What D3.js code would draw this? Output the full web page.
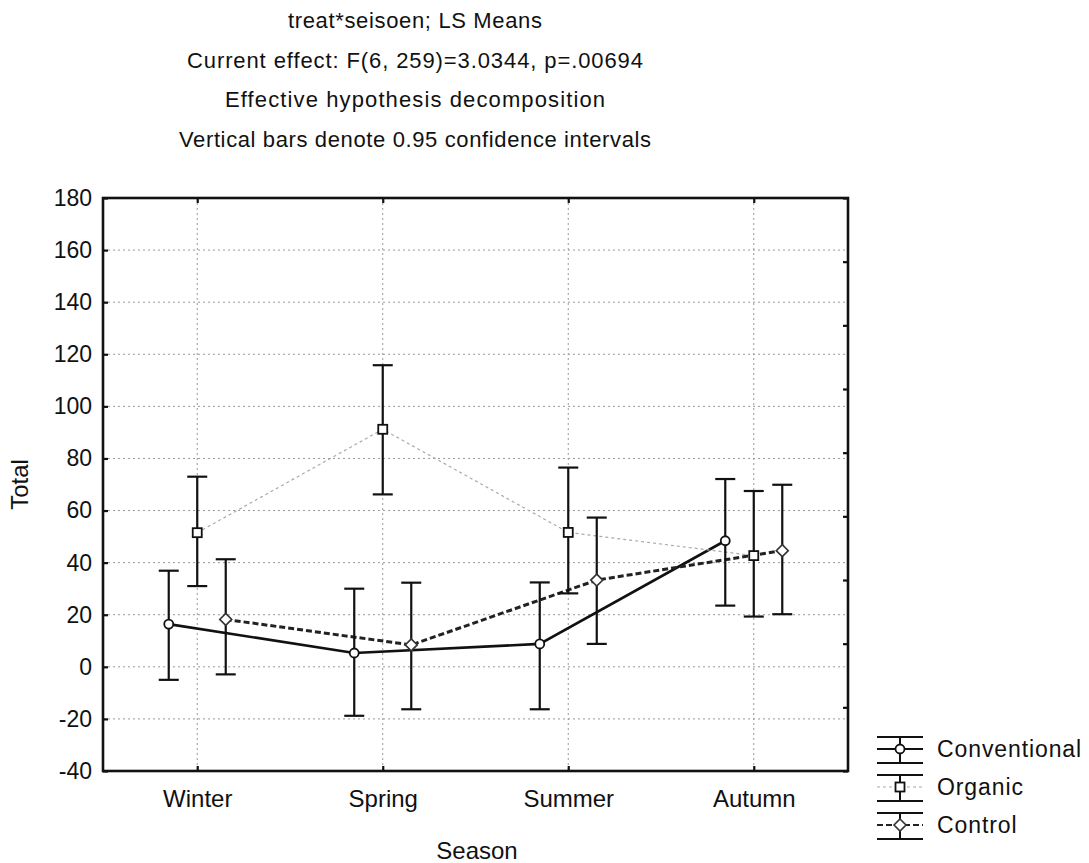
<!DOCTYPE html>
<html lang="en">
<head>
	<meta charset="UTF-8">
	<title>treat*seisoen LS Means</title>
	<script src="https://d3js.org/d3.v7.min.js"></script>
	<style>
		body { margin: 0; background: #fff; }
		text { font-family: "Liberation Sans", Arial, sans-serif; fill: #111; }
	</style>
</head>
<body>
	<svg width="1089" height="863"></svg>
	<script>
		// data
		const seasons = ["Winter", "Spring", "Summer", "Autumn"];
		const treatments = ["Conventional", "Organic", "Control"];

		const conventionalMean = [16.4, 5.3, 8.8, 48.4];
		const conventionalLow = [-5.0, -18.8, -16.3, 23.5];
		const conventionalHigh = [36.9, 30.0, 32.4, 72.1];

		const organicMean = [51.5, 91.2, 51.6, 42.7];
		const organicLow = [31.0, 66.2, 28.2, 19.3];
		const organicHigh = [73.0, 115.8, 76.5, 67.5];

		const controlMean = [18.2, 8.4, 33.3, 44.6];
		const controlLow = [-2.9, -16.3, 8.8, 20.2];
		const controlHigh = [41.3, 32.3, 57.3, 69.9];

		const yTicks = [-40, -20, 0, 20, 40, 60, 80, 100, 120, 140, 160, 180];
		const rightTicks = [0, 1, 2, 3, 4, 5, 6, 7, 8, 9];

		const titleLines = [
			"treat*seisoen; LS Means",
			"Current effect: F(6, 259)=3.0344, p=.00694",
			"Effective hypothesis decomposition",
			"Vertical bars denote 0.95 confidence intervals"
		];
		// measured width of each title line in the picture
		const titleWidths = [254, 456, 380, 472];

		const series = [
			{ name: treatments[0], mean: conventionalMean, low: conventionalLow, high: conventionalHigh },
			{ name: treatments[1], mean: organicMean, low: organicLow, high: organicHigh },
			{ name: treatments[2], mean: controlMean, low: controlLow, high: controlHigh }
		];

		const styles = {
			Conventional: { stroke: "#111", width: 2.6, dash: null, marker: "circle" },
			Organic: { stroke: "#aaa", width: 1.2, dash: "3,3", marker: "square" },
			Control: { stroke: "#222", width: 3, dash: "6,3", marker: "diamond" }
		};

		const svg = d3.select("svg");
		const plotLeft = 103, plotRight = 848, plotTop = 198, plotBottom = 771;

		const x = d3.scalePoint().domain(seasons).range([plotLeft, plotRight]).padding(0.508);
		const offset = d3.scalePoint().domain(treatments).range([-28.5, 28.5]);
		const y = d3.scaleLinear().domain([-40, 180]).range([plotBottom, plotTop]);
		const yRight = d3.scaleLinear().domain([0, 9]).range([plotBottom, plotTop]);

		// titles
		svg.append("g").selectAll("text")
			.data(titleLines)
			.enter().append("text")
			.attr("x", 415)
			.attr("y", (d, i) => 28 + i * 39.5)
			.attr("text-anchor", "middle")
			.attr("textLength", (d, i) => titleWidths[i])
			.attr("lengthAdjust", "spacing")
			.style("font-size", "22px")
			.text(d => d);

		// grid
		const grid = svg.append("g")
			.attr("stroke", "#999")
			.attr("stroke-width", 1)
			.attr("stroke-dasharray", "2,3");
		grid.selectAll("hline")
			.data(yTicks.slice(1, -1))
			.enter().append("line")
			.attr("x1", plotLeft).attr("x2", plotRight)
			.attr("y1", d => y(d)).attr("y2", d => y(d));
		grid.selectAll("vline")
			.data(seasons)
			.enter().append("line")
			.attr("x1", d => x(d)).attr("x2", d => x(d))
			.attr("y1", plotTop).attr("y2", plotBottom);

		// axes, ticks point inward
		const yAxis = svg.append("g")
			.attr("transform", "translate(" + plotLeft + ",0)")
			.call(d3.axisLeft(y).tickValues(yTicks).tickFormat(d => String(d))
				.tickSizeInner(-5).tickSizeOuter(0).tickPadding(11));
		yAxis.selectAll("text").style("font-size", "23px").attr("fill", "#111");

		const xAxis = svg.append("g")
			.attr("transform", "translate(0," + plotBottom + ")")
			.call(d3.axisBottom(x).tickSizeInner(-5).tickSizeOuter(0).tickPadding(19));
		xAxis.selectAll("text").style("font-size", "24px").attr("fill", "#111");

		svg.append("g")
			.attr("transform", "translate(0," + plotTop + ")")
			.call(d3.axisTop(x).tickSizeInner(-5).tickSizeOuter(0).tickFormat(""));

		svg.append("g")
			.attr("transform", "translate(" + plotRight + ",0)")
			.call(d3.axisRight(yRight).tickValues(rightTicks).tickSizeInner(-5).tickSizeOuter(0).tickFormat(""));

		svg.selectAll(".domain").remove();
		svg.selectAll(".tick line").attr("stroke", "#111").attr("stroke-width", 2.2);

		// frame
		svg.append("rect")
			.attr("x", plotLeft).attr("y", plotTop)
			.attr("width", plotRight - plotLeft).attr("height", plotBottom - plotTop)
			.attr("fill", "none")
			.attr("stroke", "#111")
			.attr("stroke-width", 2.6);

		// axis titles
		svg.append("text")
			.attr("transform", "translate(28," + (plotTop + plotBottom) / 2 + ") rotate(-90)")
			.attr("text-anchor", "middle")
			.style("font-size", "24px")
			.text("Total");

		svg.append("text")
			.attr("x", 477)
			.attr("y", 859)
			.attr("text-anchor", "middle")
			.style("font-size", "24px")
			.text("Season");

		function drawMarker(g, type, cx, cy) {
			if (type == "circle") {
				g.append("circle").attr("cx", cx).attr("cy", cy).attr("r", 4.5)
					.attr("fill", "white").attr("stroke", "#111").attr("stroke-width", 1.8);
			} else if (type == "square") {
				g.append("rect").attr("x", cx - 4.5).attr("y", cy - 4.5).attr("width", 9).attr("height", 9)
					.attr("fill", "white").attr("stroke", "#111").attr("stroke-width", 1.8);
			} else {
				g.append("path")
					.attr("d", "M" + cx + "," + (cy - 6) + "L" + (cx + 6) + "," + cy + "L" + cx + "," + (cy + 6) + "L" + (cx - 6) + "," + cy + "Z")
					.attr("fill", "white").attr("stroke", "#333").attr("stroke-width", 1.6);
			}
		}

		const plot = svg.append("g");

		// connecting lines
		series.forEach(s => {
			const st = styles[s.name];
			const line = d3.line()
				.x((d, i) => x(seasons[i]) + offset(s.name))
				.y(d => y(d));
			plot.append("path")
				.datum(s.mean)
				.attr("d", line)
				.attr("fill", "none")
				.attr("stroke", st.stroke)
				.attr("stroke-width", st.width)
				.attr("stroke-dasharray", st.dash);
		});

		// error bars
		series.forEach(s => {
			const g = plot.append("g").attr("stroke", "#111").attr("stroke-width", 2.2);
			seasons.forEach((season, i) => {
				const cx = x(season) + offset(s.name);
				g.append("line").attr("x1", cx).attr("x2", cx).attr("y1", y(s.low[i])).attr("y2", y(s.high[i]));
				g.append("line").attr("x1", cx - 10).attr("x2", cx + 10).attr("y1", y(s.low[i])).attr("y2", y(s.low[i]));
				g.append("line").attr("x1", cx - 10).attr("x2", cx + 10).attr("y1", y(s.high[i])).attr("y2", y(s.high[i]));
			});
		});

		// markers
		series.forEach(s => {
			const g = plot.append("g");
			seasons.forEach((season, i) => {
				drawMarker(g, styles[s.name].marker, x(season) + offset(s.name), y(s.mean[i]));
			});
		});

		// legend
		const legend = svg.append("g").attr("transform", "translate(877,0)");
		const legendY = [749, 787, 825];
		treatments.forEach((name, i) => {
			const st = styles[name];
			const cy = legendY[i];
			const item = legend.append("g");
			item.append("line").attr("x1", 0).attr("x2", 46).attr("y1", cy - 12).attr("y2", cy - 12)
				.attr("stroke", "#111").attr("stroke-width", 2.2);
			item.append("line").attr("x1", 0).attr("x2", 46).attr("y1", cy + 14).attr("y2", cy + 14)
				.attr("stroke", "#111").attr("stroke-width", 2.2);
			item.append("line").attr("x1", 23).attr("x2", 23).attr("y1", cy - 12).attr("y2", cy + 14)
				.attr("stroke", "#111").attr("stroke-width", 2);
			item.append("line").attr("x1", 0).attr("x2", 46).attr("y1", cy).attr("y2", cy)
				.attr("stroke", st.stroke).attr("stroke-width", Math.min(st.width, 2))
				.attr("stroke-dasharray", st.dash);
			drawMarker(item, st.marker, 23, cy);
			item.append("text")
				.attr("x", 60)
				.attr("y", cy + 8)
				.style("font-size", "23px")
				.style("letter-spacing", "0.9px")
				.text(name);
		});
	</script>
</body>
</html>
